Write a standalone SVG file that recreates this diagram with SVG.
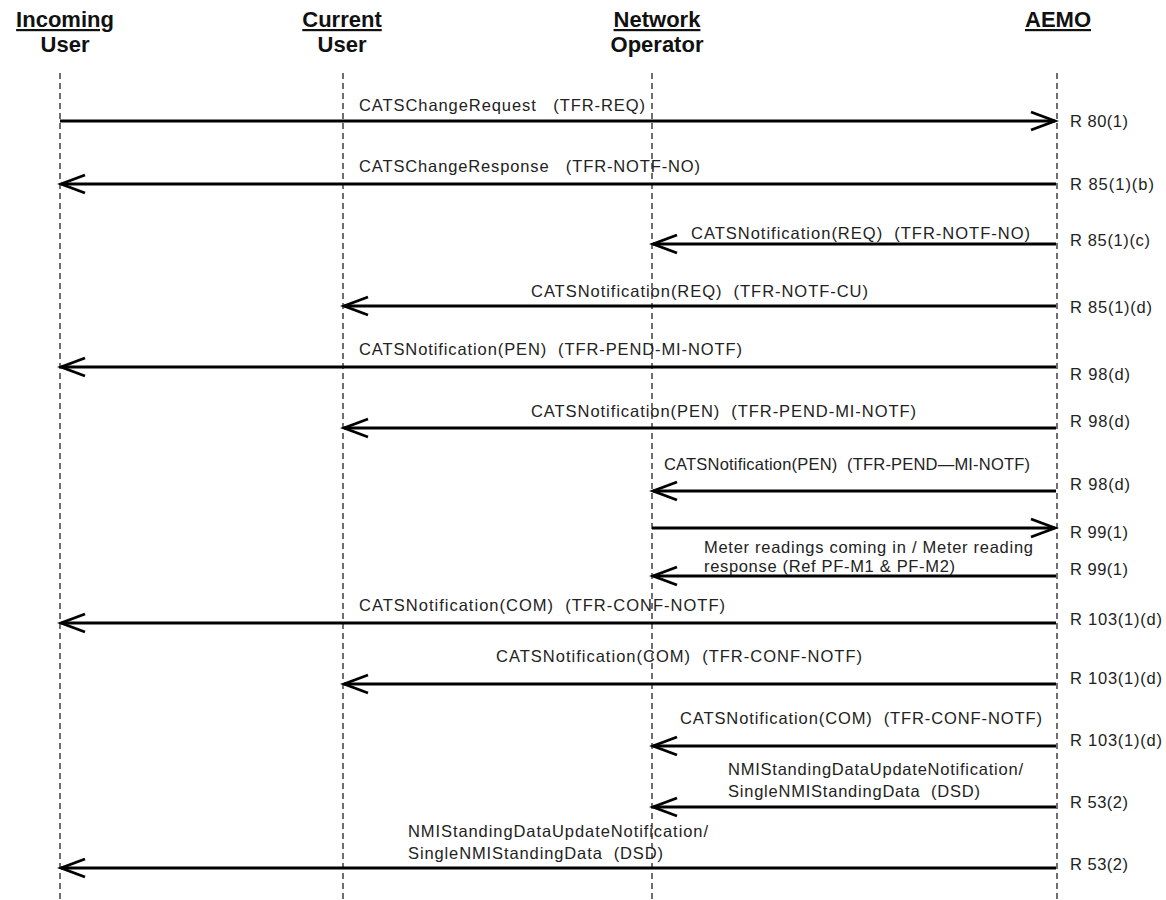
<svg xmlns="http://www.w3.org/2000/svg" width="1166" height="900" viewBox="0 0 1166 900">
<style>
.hdr{font-family:"Liberation Sans",Arial,sans-serif;font-size:22px;font-weight:bold;fill:#111;text-anchor:middle}
.u{text-decoration:underline}
.lbl{font-family:"Liberation Sans",Arial,sans-serif;font-size:16.5px;fill:#222}
.life{stroke:#222;stroke-width:1.3;stroke-dasharray:6,4;fill:none}
.msg{stroke:#000;stroke-width:2.8;fill:none}
</style>
<defs>
<marker id="ah" markerUnits="userSpaceOnUse" markerWidth="30" markerHeight="24" refX="26" refY="12" orient="auto">
<path d="M2,3 L26,12 L2,21" fill="none" stroke="#000" stroke-width="2.8"/>
</marker>
</defs>
<rect width="1166" height="900" fill="#fff"/>
<g id="incoming-user">
<text class="hdr u" x="65" y="27">Incoming</text>
<text class="hdr" x="65" y="52">User</text>
<line class="life" x1="60" y1="73" x2="60" y2="900"/>
</g>
<g id="current-user">
<text class="hdr u" x="342" y="27">Current</text>
<text class="hdr" x="342" y="52">User</text>
<line class="life" x1="343" y1="73" x2="343" y2="900"/>
</g>
<g id="network-operator">
<text class="hdr u" x="657" y="27">Network</text>
<text class="hdr" x="657" y="52">Operator</text>
<line class="life" x1="652" y1="73" x2="652" y2="900"/>
</g>
<g id="aemo">
<text class="hdr u" x="1058" y="27">AEMO</text>
<line class="life" x1="1057" y1="73" x2="1057" y2="900"/>
</g>
<g id="connectors">
<line class="msg" x1="60" y1="121" x2="1055" y2="121" marker-end="url(#ah)"/>
<line class="msg" x1="1056" y1="184" x2="61" y2="184" marker-end="url(#ah)"/>
<line class="msg" x1="1056" y1="244" x2="653" y2="244" marker-end="url(#ah)"/>
<line class="msg" x1="1056" y1="306" x2="344" y2="306" marker-end="url(#ah)"/>
<line class="msg" x1="1056" y1="367" x2="61" y2="367" marker-end="url(#ah)"/>
<line class="msg" x1="1056" y1="428" x2="344" y2="428" marker-end="url(#ah)"/>
<line class="msg" x1="1056" y1="491" x2="653" y2="491" marker-end="url(#ah)"/>
<line class="msg" x1="652" y1="528" x2="1055" y2="528" marker-end="url(#ah)"/>
<line class="msg" x1="1056" y1="576" x2="653" y2="576" marker-end="url(#ah)"/>
<line class="msg" x1="1056" y1="623" x2="61" y2="623" marker-end="url(#ah)"/>
<line class="msg" x1="1056" y1="684" x2="344" y2="684" marker-end="url(#ah)"/>
<line class="msg" x1="1056" y1="746" x2="653" y2="746" marker-end="url(#ah)"/>
<line class="msg" x1="1056" y1="807" x2="653" y2="807" marker-end="url(#ah)"/>
<line class="msg" x1="1056" y1="868" x2="61" y2="868" marker-end="url(#ah)"/>
</g>
<g id="labels">
<text class="lbl" x="359" y="111" textLength="286" lengthAdjust="spacing" xml:space="preserve">CATSChangeRequest   (TFR-REQ)</text>
<text class="lbl" x="359" y="172" textLength="341" lengthAdjust="spacing" xml:space="preserve">CATSChangeResponse   (TFR-NOTF-NO)</text>
<text class="lbl" x="691" y="239" textLength="339" lengthAdjust="spacing" xml:space="preserve">CATSNotification(REQ)  (TFR-NOTF-NO)</text>
<text class="lbl" x="531" y="297" textLength="337" lengthAdjust="spacing" xml:space="preserve">CATSNotification(REQ)  (TFR-NOTF-CU)</text>
<text class="lbl" x="359" y="355" textLength="383" lengthAdjust="spacing" xml:space="preserve">CATSNotification(PEN)  (TFR-PEND-MI-NOTF)</text>
<text class="lbl" x="531" y="417" textLength="385" lengthAdjust="spacing" xml:space="preserve">CATSNotification(PEN)  (TFR-PEND-MI-NOTF)</text>
<text class="lbl" x="664" y="470" textLength="366" lengthAdjust="spacing" xml:space="preserve">CATSNotification(PEN)  (TFR-PEND—MI-NOTF)</text>
<text class="lbl" x="704" y="553" textLength="329" lengthAdjust="spacing">Meter readings coming in / Meter reading</text>
<text class="lbl" x="704" y="572" textLength="251" lengthAdjust="spacing">response (Ref PF-M1 &amp; PF-M2)</text>
<text class="lbl" x="359" y="611" textLength="366" lengthAdjust="spacing" xml:space="preserve">CATSNotification(COM)  (TFR-CONF-NOTF)</text>
<text class="lbl" x="496" y="662" textLength="366" lengthAdjust="spacing" xml:space="preserve">CATSNotification(COM)  (TFR-CONF-NOTF)</text>
<text class="lbl" x="680" y="724" textLength="362" lengthAdjust="spacing" xml:space="preserve">CATSNotification(COM)  (TFR-CONF-NOTF)</text>
<text class="lbl" x="728" y="775" textLength="295" lengthAdjust="spacing">NMIStandingDataUpdateNotification/</text>
<text class="lbl" x="728" y="797" textLength="252" lengthAdjust="spacing" xml:space="preserve">SingleNMIStandingData  (DSD)</text>
<text class="lbl" x="408" y="837" textLength="300" lengthAdjust="spacing">NMIStandingDataUpdateNotification/</text>
<text class="lbl" x="408" y="859" textLength="255" lengthAdjust="spacing" xml:space="preserve">SingleNMIStandingData  (DSD)</text>
<text class="lbl" x="1070" y="127" textLength="58" lengthAdjust="spacing">R 80(1)</text>
<text class="lbl" x="1070" y="190" textLength="84" lengthAdjust="spacing">R 85(1)(b)</text>
<text class="lbl" x="1070" y="246" textLength="80" lengthAdjust="spacing">R 85(1)(c)</text>
<text class="lbl" x="1070" y="313" textLength="82" lengthAdjust="spacing">R 85(1)(d)</text>
<text class="lbl" x="1070" y="380" textLength="60" lengthAdjust="spacing">R 98(d)</text>
<text class="lbl" x="1070" y="427" textLength="60" lengthAdjust="spacing">R 98(d)</text>
<text class="lbl" x="1070" y="490" textLength="60" lengthAdjust="spacing">R 98(d)</text>
<text class="lbl" x="1070" y="538" textLength="58" lengthAdjust="spacing">R 99(1)</text>
<text class="lbl" x="1070" y="575" textLength="58" lengthAdjust="spacing">R 99(1)</text>
<text class="lbl" x="1070" y="625" textLength="92" lengthAdjust="spacing">R 103(1)(d)</text>
<text class="lbl" x="1070" y="684" textLength="92" lengthAdjust="spacing">R 103(1)(d)</text>
<text class="lbl" x="1070" y="746" textLength="92" lengthAdjust="spacing">R 103(1)(d)</text>
<text class="lbl" x="1070" y="808" textLength="58" lengthAdjust="spacing">R 53(2)</text>
<text class="lbl" x="1070" y="870" textLength="58" lengthAdjust="spacing">R 53(2)</text>
</g>
</svg>
